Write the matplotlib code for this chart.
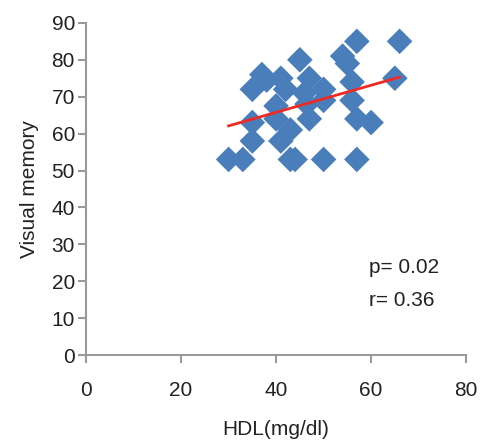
import numpy as np
import matplotlib
matplotlib.use("Agg")
import matplotlib.pyplot as plt

hdl = [57, 66, 45, 54, 55, 37, 38, 41, 42, 35, 47, 65, 56, 46, 50, 50, 56, 40,
       46.5, 40, 47, 35, 57, 60, 43, 35, 41, 30, 33, 43, 44, 50, 57]
visual = [85, 85, 80, 81, 79, 76, 74.5, 75, 72, 72, 75, 75, 74, 71, 72, 69, 69, 67.5,
          68, 64, 64, 63, 64, 63, 61, 58, 58, 53, 53, 53, 53, 53, 53]
trend_x = [30, 66]
trend_y = [62.1, 75.3]
xticks = [0, 20, 40, 60, 80]
yticks = [0, 10, 20, 30, 40, 50, 60, 70, 80, 90]
stats = ["p= 0.02", "r= 0.36"]

plt.rcParams['font.family'] = ['Liberation Sans', 'DejaVu Sans']
fig = plt.figure(figsize=(4.81, 4.40), dpi=100)
ax = fig.add_axes([0.179, 0.193, 0.79, 0.755])

ax.scatter(hdl, visual, marker='D', s=170, color='#4a7ebb', edgecolors='none', zorder=2)
ax.plot(trend_x, trend_y, color='#ee2a24', lw=2, zorder=3)

ax.set_xlim(0, 80)
ax.set_ylim(0, 90)
ax.set_xticks(xticks)
ax.set_yticks(yticks)
for s in ['top', 'right']:
    ax.spines[s].set_visible(False)
for s in ['left', 'bottom']:
    ax.spines[s].set_color('#999999')
    ax.spines[s].set_linewidth(1.5)
ax.tick_params(axis='x', direction='out', length=6, width=1.5, color='#999999',
               labelsize=15, pad=13, labelcolor='#222222')
ax.tick_params(axis='y', direction='out', length=6, width=1.5, color='#999999',
               labelsize=15, pad=2, labelcolor='#222222')
ax.set_xlabel('HDL(mg/dl)', fontsize=15, color='#222222', labelpad=14)
ax.set_ylabel('Visual memory', fontsize=15, color='#222222', labelpad=9)
ax.text(59.6, 23.6, stats[0], fontsize=15, color='#222222', va='center')
ax.text(59.6, 14.9, stats[1], fontsize=15, color='#222222', va='center')

fig.savefig('out.png', dpi=100)
